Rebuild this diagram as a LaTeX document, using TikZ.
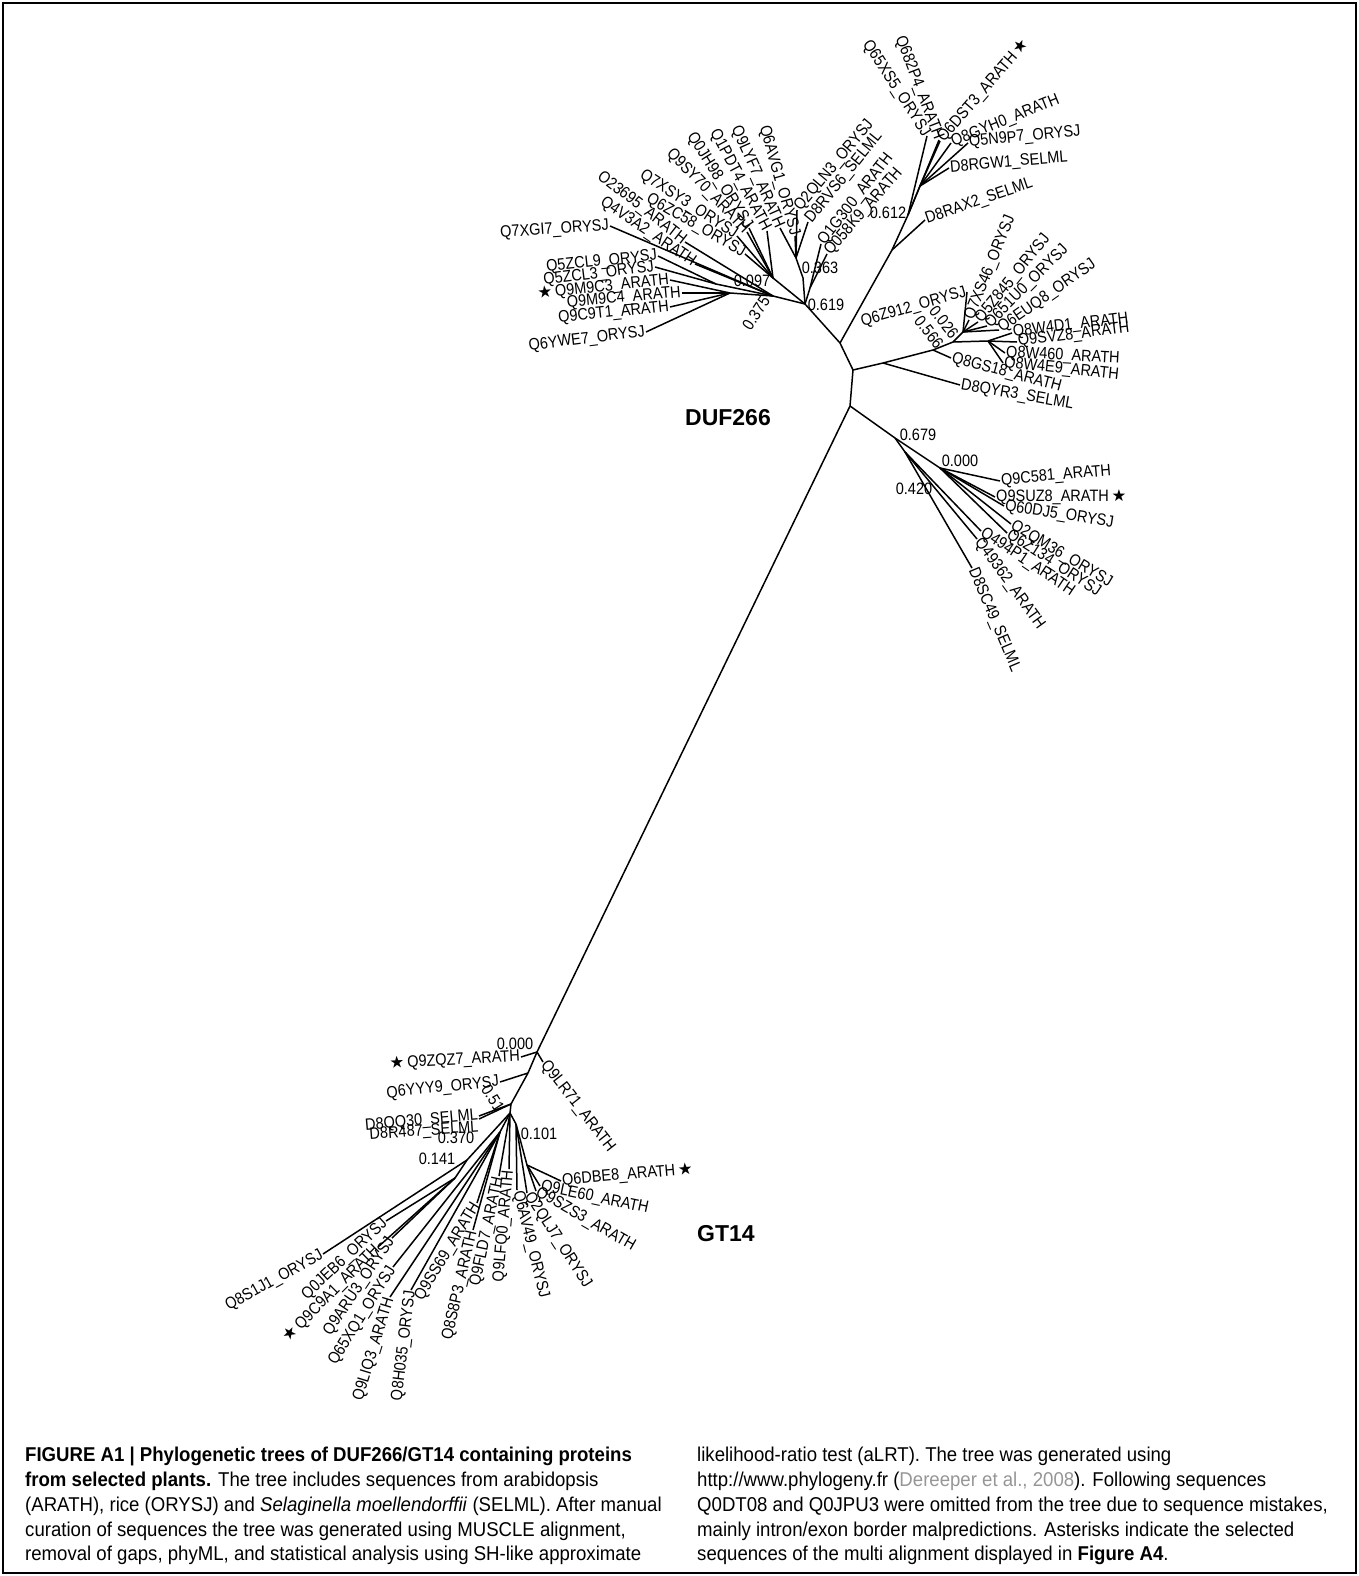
\documentclass[tikz,border=0pt]{standalone}
\usepackage{fontspec}
\setmainfont{Liberation Sans}
\newfontfamily\leaffont[FakeStretch=0.88]{Liberation Sans}
\newfontfamily\capfont[FakeStretch=0.93]{Liberation Sans}
\newfontfamily\starfont{DejaVu Sans}
\newcommand{\sel}{{\starfont ★}}
\definecolor{citegray}{RGB}{150,150,150}
\begin{document}
\begin{tikzpicture}[x=1pt,y=-1pt,
		branch/.style={line width=1.5pt},
		lbl/.style={font=\leaffont\fontsize{16.5}{18}\selectfont,inner sep=1pt},
		tipR/.style={lbl,anchor=west},
		tipL/.style={lbl,anchor=east},
		supp/.style={font=\leaffont\fontsize{16.5}{18}\selectfont,inner sep=0pt},
		clade/.style={font=\fontsize{23}{26}\selectfont\bfseries},
		captext/.style={font=\capfont\fontsize{20}{24.8}\selectfont,align=left,inner sep=0pt,anchor=north west},
		]
		\useasboundingbox (0,0) rectangle (1359,1576);
		\draw[line width=1.2pt] (3,3) rectangle (1356,1573);
		
		\coordinate (n1) at (840,343);
		\coordinate (n2) at (853,370);
		\coordinate (n3) at (850,406);
		\coordinate (t0) at (805,304);
		\coordinate (tA) at (773,296);
		\coordinate (tB) at (730,293);
		\coordinate (tD) at (716,284);
		\coordinate (tE) at (773,278);
		\coordinate (tC) at (803,278);
		\coordinate (tF) at (796,258);
		\coordinate (tG) at (810,288);
		\coordinate (r1) at (892,250);
		\coordinate (r2) at (908,215);
		\coordinate (r3) at (920,186);
		\coordinate (m1) at (883,363);
		\coordinate (m2) at (933,350);
		\coordinate (m3) at (953,342);
		\coordinate (m4) at (963,332);
		\coordinate (m5) at (988,341);
		\coordinate (p1) at (895,438);
		\coordinate (p2) at (940,468);
		\coordinate (p4) at (905,452);
		\coordinate (g0) at (537,1052);
		\coordinate (g1) at (528,1073);
		\coordinate (g2) at (511,1104);
		\coordinate (g3) at (510,1113);
		\coordinate (g4) at (467,1160);
		\coordinate (g5) at (455,1178);
		\coordinate (g6) at (500,1132);
		\coordinate (g7) at (516,1124);
		\coordinate (g8) at (527,1165);
		
		\node[clade] (duf) at (728,418) {DUF266};
		\node[clade] (gt) at (726,1234) {GT14};
		
		\node[tipL,rotate=4] (Q7XGI7) at (610,226) {Q7XGI7\_ORYSJ};
		\node[tipL,rotate=6] (Q5ZCL9) at (658,256) {Q5ZCL9\_ORYSJ};
		\node[tipL,rotate=7] (Q5ZCL3) at (655,267) {Q5ZCL3\_ORYSJ};
		\node[tipL,rotate=6] (Q9M9C3) at (670,280) {\sel\,Q9M9C3\_ARATH};
		\node[tipL,rotate=5] (Q9M9C4) at (682,293) {Q9M9C4\_ARATH};
		\node[tipL,rotate=6] (Q9C9T1) at (670,307) {Q9C9T1\_ARATH};
		\node[tipL,rotate=7] (Q6YWE7) at (646,332) {Q6YWE7\_ORYSJ};
		\node[tipL,rotate=-38] (O23695) at (685,242) {O23695\_ARATH};
		\node[tipL,rotate=-34] (Q4V3A2) at (695,264) {Q4V3A2\_ARATH};
		\node[tipL,rotate=-33] (Q7XSY3) at (737,236) {Q7XSY3\_ORYSJ};
		\node[tipL,rotate=-30] (Q6ZC58) at (745,254) {Q6ZC58\_ORYSJ};
		\node[tipL,rotate=-46] (Q9SY70) at (747,232) {Q9SY70\_ARATH};
		\node[tipL,rotate=-58] (Q0JH98) at (749,228) {Q0JH98\_ORYSJ};
		\node[tipL,rotate=-62] (Q1PDT4) at (767,231) {Q1PDT4\_ARATH};
		\node[tipL,rotate=-66] (Q9LYF7) at (780,228) {Q9LYF7\_ARATH};
		\node[tipL,rotate=-74] (Q6AVG1) at (795,236) {Q6AVG1\_ORYSJ};
		\node[tipR,rotate=50] (Q2QLN3) at (797,210) {Q2QLN3\_ORYSJ};
		\node[tipR,rotate=51] (D8RVS6) at (808,222) {D8RVS6\_SELML};
		\node[tipR,rotate=52] (Q1G300) at (821,244) {Q1G300\_ARATH};
		\node[tipR,rotate=49] (Q058K9) at (827,254) {Q058K9\_ARATH};
		
		\node[tipR,rotate=19] (D8RAX2) at (925,220) {D8RAX2\_SELML};
		\node[tipL,rotate=-57] (Q65XS5) at (927,136) {Q65XS5\_ORYSJ};
		\node[tipL,rotate=-69] (Q682P4) at (939,140) {Q682P4\_ARATH};
		\node[tipR,rotate=49] (Q6DST3) at (940,141) {Q6DST3\_ARATH\,\sel};
		\node[tipR,rotate=22] (Q8GYH0) at (951,143) {Q8GYH0\_ARATH};
		\node[tipR,rotate=6] (Q5N9P7) at (968,143) {Q5N9P7\_ORYSJ};
		\node[tipR,rotate=5] (D8RGW1) at (949,168) {D8RGW1\_SELML};
		
		\node[tipR,rotate=-10] (D8QYR3) at (960,385) {D8QYR3\_SELML};
		\node[tipR,rotate=-15] (Q8GS18) at (951,358) {Q8GS18\_ARATH};
		\node[tipR,rotate=7] (Q8W4D1) at (1012,333) {Q8W4D1\_ARATH};
		\node[tipR,rotate=7] (Q9SVZ8) at (1017,342) {Q9SVZ8\_ARATH};
		\node[tipR,rotate=-3] (Q8W460) at (1005,353) {Q8W460\_ARATH};
		\node[tipR,rotate=-6] (Q8W4E9) at (1003,363) {Q8W4E9\_ARATH};
		\node[tipL,rotate=16] (Q6Z912) at (967,292) {Q6Z912\_ORYSJ};
		\node[tipR,rotate=68] (Q7XS46) at (969,320) {Q7XS46\_ORYSJ};
		\node[tipR,rotate=51] (Q5Z845) at (978,322) {Q5Z845\_ORYSJ};
		\node[tipR,rotate=45] (Q651U0) at (987,326) {Q651U0\_ORYSJ};
		\node[tipR,rotate=35] (Q6EUQ8) at (999,330) {Q6EUQ8\_ORYSJ};
		
		\node[tipR,rotate=5] (Q9C581) at (1000,481) {Q9C581\_ARATH};
		\node[tipR,rotate=0] (Q9SUZ8) at (995,497) {Q9SUZ8\_ARATH\,\sel};
		\node[tipR,rotate=-9] (Q60DJ5) at (1004,506) {Q60DJ5\_ORYSJ};
		\node[tipR,rotate=-31] (Q2QM36) at (1011,524) {Q2QM36\_ORYSJ};
		\node[tipR,rotate=-33] (Q6Z134) at (1007,533) {Q6Z134\_ORYSJ};
		\node[tipR,rotate=-34] (Q494P1) at (981,531) {Q494P1\_ARATH};
		\node[tipR,rotate=-54] (Q49362) at (977,539) {Q49362\_ARATH};
		\node[tipR,rotate=-67] (D8SC49) at (972,568) {D8SC49\_SELML};
		
		\node[tipL,rotate=3] (Q9ZQZ7) at (521,1057) {\sel\,Q9ZQZ7\_ARATH};
		\node[tipR,rotate=-52] (Q9LR71) at (543,1062) {Q9LR71\_ARATH};
		\node[tipL,rotate=6] (Q6YYY9) at (500,1082) {Q6YYY9\_ORYSJ};
		\node[tipL,rotate=5] (D8QQ30) at (479,1116) {D8QQ30\_SELML};
		\node[tipL,rotate=4,anchor=north east] (D8R487) at (479,1119) {D8R487\_SELML};
		\node[tipL,rotate=29] (Q8S1J1) at (323,1254) {Q8S1J1\_ORYSJ};
		\node[tipL,rotate=43] (Q0JEB6) at (386,1221) {Q0JEB6\_ORYSJ};
		\node[tipL,rotate=45] (Q9C9A1) at (378,1247) {\sel\,Q9C9A1\_ARATH};
		\node[tipL,rotate=56] (Q9ARU3) at (392,1238) {Q9ARU3\_ORYSJ};
		\node[tipL,rotate=58] (Q65XQ1) at (393,1267) {Q65XQ1\_ORYSJ};
		\node[tipL,rotate=73] (Q9LIQ3) at (390,1297) {Q9LIQ3\_ARATH};
		\node[tipL,rotate=83] (Q8H035) at (411,1290) {Q8H035\_ORYSJ};
		\node[tipL,rotate=59] (Q9SS69) at (477,1203) {Q9SS69\_ARATH};
		\node[tipL,rotate=77] (Q8S8P3) at (473,1230) {Q8S8P3\_ARATH};
		\node[tipL,rotate=78] (Q9FLD7) at (499,1176) {Q9FLD7\_ARATH};
		\node[tipL,rotate=85] (Q9LFQ0) at (509,1169) {Q9LFQ0\_ARATH};
		\node[tipR,rotate=-76] (Q6AV49) at (517,1190) {Q6AV49\_ORYSJ};
		\node[tipR,rotate=-57] (Q2QLJ7) at (527,1193) {Q2QLJ7\_ORYSJ};
		\node[tipR,rotate=-30] (Q9SZS3) at (536,1191) {Q9SZS3\_ARATH};
		\node[tipR,rotate=-12] (Q9LE60) at (540,1186) {Q9LE60\_ARATH};
		\node[tipR,rotate=5] (Q6DBE8) at (561,1181) {Q6DBE8\_ARATH\,\sel};
		
		\node[supp] (s619) at (826,305) {0.619};
		\node[supp] (s097) at (752,281) {0.097};
		\node[supp,rotate=57] (s375) at (756,313) {0.375};
		\node[supp] (s363) at (820,268) {0.363};
		\node[supp] (s612) at (888,213) {0.612};
		\node[supp,rotate=-52] (s026) at (944,322) {0.026};
		\node[supp,rotate=-52] (s566) at (929,332) {0.566};
		\node[supp] (s679) at (918,435) {0.679};
		\node[supp] (s000a) at (960,461) {0.000};
		\node[supp] (s420) at (914,489) {0.420};
		\node[supp] (s000b) at (515,1044) {0.000};
		\node[supp,rotate=-58] (s51) at (493,1098) {0.51};
		\node[supp] (s370) at (456,1138) {0.370};
		\node[supp] (s101) at (539,1134) {0.101};
		\node[supp] (s141) at (437,1159) {0.141};
		
		\foreach \a/\b in {n1/n2,n2/n3,n1/t0,t0/tA,tA/tB,tA/tD,t0/tE,t0/tC,tC/tF,t0/tG,
			n1/r1,r1/r2,r2/r3,n2/m1,m1/m2,m2/m3,m3/m4,m3/m5,n3/p1,p1/p2,p1/p4,
			n3/g0,g0/g1,g1/g2,g2/g3,g3/g4,g4/g5,g3/g6,g3/g7,g7/g8}
			\draw[branch] (\a) -- (\b);
		\foreach \a/\b in {tF/Q2QLN3,tF/D8RVS6,tG/Q1G300,tG/Q058K9,
			r1/D8RAX2,r3/Q6DST3,r3/Q8GYH0,r3/Q5N9P7,r3/D8RGW1,
			m1/D8QYR3,m2/Q8GS18,m5/Q8W4D1,m5/Q9SVZ8,m5/Q8W460,m5/Q8W4E9,
			m4/Q7XS46,m4/Q5Z845,m4/Q651U0,m4/Q6EUQ8,
			p2/Q9C581,p2/Q9SUZ8,p2/Q60DJ5,p2/Q2QM36,p2/Q6Z134,p4/Q494P1,p4/Q49362,p4/D8SC49,
			g0/Q9LR71,g7/Q6AV49,g7/Q2QLJ7,g8/Q9SZS3,g8/Q9LE60,g8/Q6DBE8}
			\draw[branch] (\a) -- (\b.west);
		\foreach \a/\b in {tA/Q7XGI7,tD/Q5ZCL9,tD/Q5ZCL3,tB/Q9M9C3,tB/Q9M9C4,tB/Q9C9T1,tB/Q6YWE7,
			tA/O23695,tA/Q4V3A2,tE/Q7XSY3,tE/Q6ZC58,tE/Q9SY70,tE/Q0JH98,tE/Q1PDT4,tF/Q9LYF7,tF/Q6AVG1,
			r2/Q65XS5,r2/Q682P4,m4/Q6Z912,
			g0/Q9ZQZ7,g1/Q6YYY9,g2/D8QQ30,g4/Q8S1J1,g5/Q0JEB6,g5/Q9C9A1,g5/Q9ARU3,
			g6/Q65XQ1,g6/Q9LIQ3,g6/Q8H035,g6/Q9SS69,g6/Q8S8P3,g3/Q9FLD7,g3/Q9LFQ0}
			\draw[branch] (\a) -- (\b.east);
		\draw[branch] (g2) -- (D8R487.north east);
		
		\node[captext] (capL) at (25,1447) {\textbf{FIGURE A1 | Phylogenetic trees of DUF266/GT14 containing proteins}\\
			\textbf{from selected plants.} The tree includes sequences from arabidopsis\\
			(ARATH), rice (ORYSJ) and \textit{Selaginella moellendorffii} (SELML). After manual\\
			curation of sequences the tree was generated using MUSCLE alignment,\\
			removal of gaps, phyML, and statistical analysis using SH-like approximate};
		\node[captext] (capR) at (697,1447) {likelihood-ratio test (aLRT). The tree was generated using\\
			http://www.phylogeny.fr ({\color{citegray}Dereeper et al., 2008}). Following sequences\\
			Q0DT08 and Q0JPU3 were omitted from the tree due to sequence mistakes,\\
			mainly intron/exon border malpredictions. Asterisks indicate the selected\\
			sequences of the multi alignment displayed in \textbf{Figure A4}.};
	\end{tikzpicture}
\end{document}
